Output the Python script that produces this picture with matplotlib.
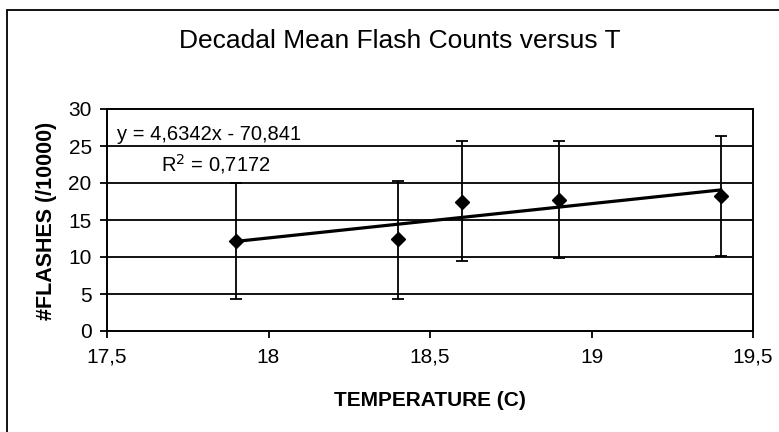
import numpy as np
import matplotlib.pyplot as plt
from matplotlib.patches import Rectangle

# data
temps = [17.9, 18.4, 18.6, 18.9, 19.4]
flashes = [12.2, 12.4, 17.4, 17.7, 18.3]
err_low = [4.3, 4.3, 9.5, 9.8, 10.1]
err_high = [20.0, 20.3, 25.7, 25.7, 26.3]

slope = 4.6342
intercept = -70.841
r2 = 0.7172

x_ticks = [17.5, 18, 18.5, 19, 19.5]
x_ticklabels = ['17,5', '18', '18,5', '19', '19,5']
y_ticks = [0, 5, 10, 15, 20, 25, 30]

plt.rcParams['font.family'] = ['Liberation Sans', 'DejaVu Sans']

fig = plt.figure(figsize=(7.79, 4.32), dpi=100)
# outer chart border (runs off the right and bottom edge)
fig.patches.append(Rectangle((7 / 779, -0.1), 1.2, 1 - 10 / 432 + 0.1,
                             transform=fig.transFigure, fill=False,
                             edgecolor='black', linewidth=1.3))

ax = fig.add_axes([107 / 779, 1 - 331 / 432, (753 - 107) / 779, (331 - 109) / 432])

t = np.array(temps)
f = np.array(flashes)
yerr = [f - np.array(err_low), np.array(err_high) - f]

for yv in y_ticks[1:-1]:
	ax.axhline(yv, color='black', linewidth=1.3, zorder=1)

ax.errorbar(t, f, yerr=yerr, fmt='D', color='black', markersize=7,
			ecolor='black', elinewidth=1.3, capsize=4.5, capthick=1.3, zorder=3)

xfit = np.array([temps[0], temps[-1]])
ax.plot(xfit, slope * xfit + intercept, color='black', linewidth=2.3, zorder=2)

ax.set_xlim(17.5, 19.5)
ax.set_ylim(0, 30)
ax.set_xticks(x_ticks)
ax.set_xticklabels(x_ticklabels)
ax.set_yticks(y_ticks)
ax.tick_params(direction='out', length=5, width=1.3, labelsize=15)
ax.tick_params(axis='x', pad=7)
ax.tick_params(axis='y', pad=6)
for s in ax.spines.values():
	s.set_linewidth(1.4)

ax.text(117 / 779, 1 - 135 / 432, 'y = 4,6342x - 70,841', transform=fig.transFigure,
		fontsize=14.5, va='center', ha='left')
ax.text(161 / 779, 1 - 164 / 432, 'R$^2$ = 0,7172', transform=fig.transFigure,
		fontsize=14.5, va='center', ha='left')

fig.text(400 / 779, 1 - 41 / 432, 'Decadal Mean Flash Counts versus T',
		 ha='center', va='center', fontsize=19)
fig.text(430 / 779, 1 - 400 / 432, 'TEMPERATURE (C)', ha='center', va='center',
		 fontsize=15, fontweight='bold')
fig.text(47 / 779, 1 - 221 / 432, '#FLASHES (/10000)', ha='center', va='center',
		 fontsize=15.5, fontweight='bold', rotation=90)

plt.savefig('out.png', dpi=100)
